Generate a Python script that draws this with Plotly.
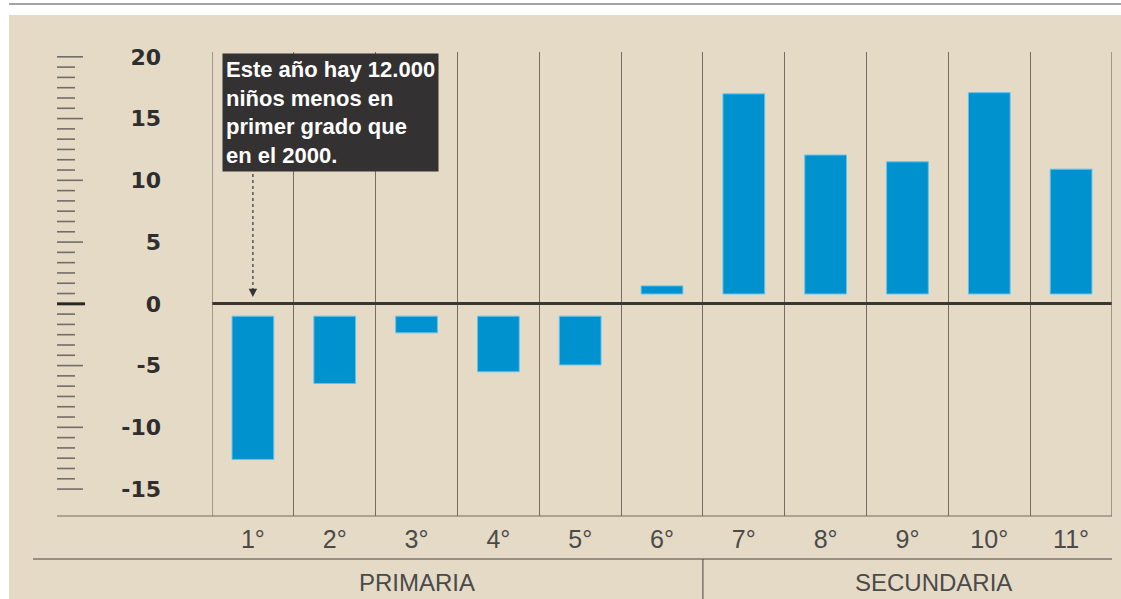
import plotly.graph_objects as go

# ---- data ----
grades = ["1°", "2°", "3°", "4°", "5°", "6°", "7°", "8°", "9°", "10°", "11°"]
change = [-12.6, -6.45, -2.35, -5.5, -4.95, 1.45, 17.0, 12.05, 11.5, 17.1, 10.9]
y_tick_vals = [20, 15, 10, 5, 0, -5, -10, -15]
y_tick_text = ["20", "15", "10", "5", "0", "-5", "-10", "-15"]
groups = ["PRIMARIA", "SECUNDARIA"]
note = "Este año hay 12.000<br>niños menos en<br>primer grado que<br>en el 2000."

# ---- style ----
BEIGE = "#E5DAC6"
BLUE = "#0092CF"
GRID = "#746c63"
POS_GAP = 0.8   # visual gap between zero line and bars
NEG_GAP = 1.0

xs = list(range(len(grades)))
bases = [POS_GAP if v > 0 else -NEG_GAP for v in change]
lengths = [v - b for v, b in zip(change, bases)]

fig = go.Figure()
fig.add_trace(go.Bar(
    x=xs, y=lengths, base=bases, width=0.51,
    marker=dict(color=BLUE, line=dict(color="#63c2ea", width=1)),
    hoverinfo="skip",
))

shapes = []
# beige panel
shapes.append(dict(type="rect", xref="paper", yref="paper",
                   x0=(9 - 212) / 900, x1=(1121 - 212) / 900,
                   y0=(516 - 599) / 464, y1=(516 - 15) / 464,
                   fillcolor=BEIGE, line=dict(width=0), layer="below"))
# top grey rule
shapes.append(dict(type="line", xref="paper", yref="paper",
                   x0=(9 - 212) / 900, x1=(1121 - 212) / 900,
                   y0=(516 - 4) / 464, y1=(516 - 4) / 464,
                   line=dict(color="#a3a3a3", width=2)))
# ruler ticks on the left
for k in range(-18, 25):
    val = k * 5 / 6
    if k == 0:
        shapes.append(dict(type="line", xref="paper", yref="y",
                           x0=(57 - 212) / 900, x1=(85 - 212) / 900, y0=val, y1=val,
                           line=dict(color="#2b2724", width=3)))
    else:
        x1 = (83 - 212) / 900 if k % 6 == 0 else (75 - 212) / 900
        shapes.append(dict(type="line", xref="paper", yref="y",
                           x0=(57 - 212) / 900, x1=x1, y0=val, y1=val,
                           line=dict(color="#726d67", width=1.6)))
# bottom frame line
shapes.append(dict(type="line", xref="paper", yref="paper",
                   x0=(57 - 212) / 900, x1=1, y0=0, y1=0,
                   line=dict(color=GRID, width=1.2)))
# edge vertical lines
for xv in (-0.5, len(grades) - 0.5):
    shapes.append(dict(type="line", xref="x", yref="paper",
                       x0=xv, x1=xv, y0=0, y1=1, line=dict(color=GRID, width=1.2)))
# group separator line
shapes.append(dict(type="line", xref="paper", yref="paper",
                   x0=(33 - 212) / 900, x1=1, y0=(516 - 559) / 464, y1=(516 - 559) / 464,
                   line=dict(color="#4a4540", width=1.2)))
shapes.append(dict(type="line", xref="x", yref="paper",
                   x0=5.5, x1=5.5, y0=(516 - 559) / 464, y1=(516 - 600) / 464,
                   line=dict(color="#4a4540", width=1)))
# dotted pointer
shapes.append(dict(type="line", xref="x", yref="y",
                   x0=0, x1=0, y0=11.0, y1=1.2,
                   line=dict(color="#333333", width=1.2, dash="dot")))

annotations = [
    dict(x=-0.38, y=20.3, xref="x", yref="y", xanchor="left", yanchor="top",
         text=note, showarrow=False, align="left",
         font=dict(family="Liberation Sans", size=22, color="white", weight="bold"),
         bgcolor="#333131", borderpad=3),
    dict(x=0, y=0.55, xref="x", yref="y", ax=0, ay=-8, axref="pixel", ayref="pixel",
         text="", showarrow=True, arrowhead=2, arrowsize=1.2, arrowwidth=1.4,
         arrowcolor="#333333"),
    dict(x=2.0, y=(516 - 582) / 464, xref="x", yref="paper", text=groups[0],
         showarrow=False, yanchor="middle",
         font=dict(family="Liberation Sans Narrow, Liberation Sans", size=24, color="#4a4a4a")),
    dict(x=8.32, y=(516 - 582) / 464, xref="x", yref="paper", text=groups[1],
         showarrow=False, yanchor="middle",
         font=dict(family="Liberation Sans Narrow, Liberation Sans", size=24, color="#4a4a4a")),
]

fig.update_layout(
    width=1121, height=599,
    margin=dict(l=212, r=9, t=52, b=83),
    paper_bgcolor="white", plot_bgcolor="rgba(0,0,0,0)",
    showlegend=False, shapes=shapes, annotations=annotations,
    xaxis=dict(range=[-0.5, len(grades) - 0.5], tickvals=xs, ticktext=grades,
               showgrid=False, zeroline=False, showline=False, ticks="",
               ticklabelstandoff=6,
               minor=dict(tickvals=[i + 0.5 for i in range(len(grades) - 1)],
                          showgrid=True, gridcolor=GRID, gridwidth=1.2),
               tickfont=dict(family="Liberation Sans Narrow, Liberation Sans", size=25,
                             color="#4a4a4a")),
    yaxis=dict(range=[-17.18, 20.39], tickvals=y_tick_vals, ticktext=y_tick_text,
               showgrid=False, zeroline=True, zerolinecolor="#3b3632", zerolinewidth=3,
               showline=False, ticks="", ticklabelstandoff=50,
               tickfont=dict(family="DejaVu Sans", size=22, color="#2e2e2e", weight="bold")),
)

fig.write_html("out.html", config={"displayModeBar": False},
               post_script="document.body.style.margin='0';document.body.style.overflow='hidden';")
